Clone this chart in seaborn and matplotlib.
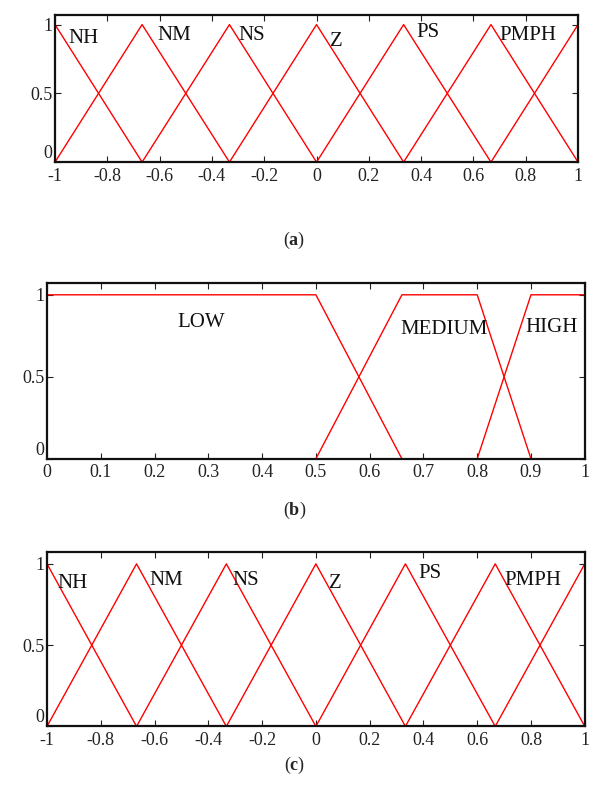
import numpy as np
import pandas as pd
import matplotlib
matplotlib.use("Agg")
import matplotlib.pyplot as plt
import seaborn as sns

# membership functions for (a) and (c): 7 triangles on [-1, 1]
tri_names = ["NH", "NM", "NS", "Z", "PS", "PM", "PH"]
tri_x = [[-1, -1, -0.667],
         [-1, -0.667, -0.333],
         [-0.667, -0.333, 0],
         [-0.333, 0, 0.333],
         [0, 0.333, 0.667],
         [0.333, 0.667, 1],
         [0.667, 1, 1]]
tri_y = [[1, 1, 0],
         [0, 1, 0],
         [0, 1, 0],
         [0, 1, 0],
         [0, 1, 0],
         [0, 1, 0],
         [0, 1, 1]]
tri_labels = ["NH", "NM", "NS", "Z", "PS", "PMPH"]
tri_label_x_a = [-0.95, -0.61, -0.30, 0.05, 0.38, 0.70]
tri_label_y_a = [0.90, 0.92, 0.92, 0.88, 0.94, 0.92]
tri_label_x_c = [-0.96, -0.62, -0.31, 0.05, 0.38, 0.70]
tri_label_y_c = [0.88, 0.90, 0.90, 0.88, 0.94, 0.90]

# membership functions for (b): LOW / MEDIUM / HIGH on [0, 1]
trap_names = ["LOW", "MEDIUM", "HIGH"]
trap_x = [[0, 0.5, 0.66],
          [0.5, 0.66, 0.8, 0.9],
          [0.8, 0.9, 1]]
trap_y = [[1, 1, 0],
          [0, 1, 1, 0],
          [0, 1, 1]]
trap_label_x = [0.286, 0.738, 0.889]
trap_label_y = [0.83, 0.79, 0.80]

xticks_tri = [-1, -0.8, -0.6, -0.4, -0.2, 0, 0.2, 0.4, 0.6, 0.8, 1]
xticks_trap = [0, 0.1, 0.2, 0.3, 0.4, 0.5, 0.6, 0.7, 0.8, 0.9, 1]
yticks = [0, 0.5, 1]

sns.set_style("ticks")
plt.rcParams['font.family'] = ['Liberation Serif', 'DejaVu Serif']
plt.rcParams['mathtext.fontset'] = 'custom'
plt.rcParams['mathtext.rm'] = 'Liberation Serif'
plt.rcParams['mathtext.bf'] = 'Liberation Serif:bold'

fig = plt.figure(figsize=(5.89, 7.87), dpi=100)
ax_a = fig.add_axes([0.0934, 0.794, 0.888, 0.187])
ax_b = fig.add_axes([0.0798, 0.417, 0.913, 0.223])
ax_c = fig.add_axes([0.0798, 0.077, 0.913, 0.221])


def style_axes(ax, xticks, xlim):
    ax.set_xlim(*xlim)
    ax.set_ylim(0, 1.07)
    ax.set_xticks(xticks)
    ax.set_xticklabels([f"{t:g}" for t in xticks])
    ax.set_yticks(yticks)
    ax.set_yticklabels(["0", "0.5", "1"])
    ax.tick_params(direction="in", top=True, right=True, length=4,
                   width=0.8, labelsize=13, colors="#222222")
    ax.tick_params(axis="y", pad=2)
    ax.tick_params(axis="x", pad=4)
    # the zero label sits a little above the bottom frame, as in the original
    ax.get_yticklabels()[0].set_va("bottom")
    for s in ax.spines.values():
        s.set_linewidth(1.6)
        s.set_color("#111111")
    ax.set_xlabel("")
    ax.set_ylabel("")


def draw_tri(ax, lab_x, lab_y):
    for name, xs, ys in zip(tri_names, tri_x, tri_y):
        df = pd.DataFrame({"x": xs, "y": ys})
        sns.lineplot(data=df, x="x", y="y", ax=ax, color="red", lw=1.0,
                     sort=False, estimator=None)
    for t, x, y in zip(tri_labels, lab_x, lab_y):
        ax.text(x, y, t, fontsize=15, va="center", ha="left", color="#111111")
    style_axes(ax, xticks_tri, (-1, 1))


draw_tri(ax_a, tri_label_x_a, tri_label_y_a)
draw_tri(ax_c, tri_label_x_c, tri_label_y_c)

for name, xs, ys in zip(trap_names, trap_x, trap_y):
    df = pd.DataFrame({"x": xs, "y": ys})
    sns.lineplot(data=df, x="x", y="y", ax=ax_b, color="red", lw=1.0,
                 sort=False, estimator=None)
for t, x, y, ha in zip(trap_names, trap_label_x, trap_label_y,
                       ["center", "center", "left"]):
    ax_b.text(x, y, t, fontsize=15, va="center", ha=ha, color="#111111")
style_axes(ax_b, xticks_trap, (0, 1))

fig.text(0.5, 0.695, r"($\mathbf{a}$)", ha="center", va="center", fontsize=13)
fig.text(0.5, 0.352, r"($\mathbf{b}$)", ha="center", va="center", fontsize=13)
fig.text(0.5, 0.028, r"($\mathbf{c}$)", ha="center", va="center", fontsize=13)

fig.savefig("out.png", dpi=100)
